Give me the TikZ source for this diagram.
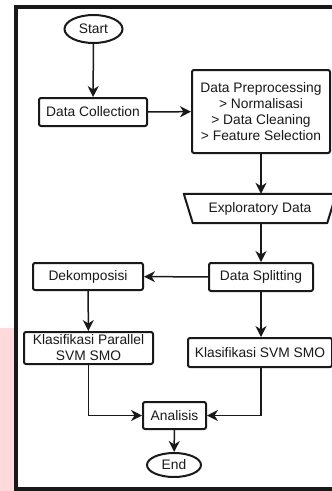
\documentclass[tikz,border=0pt]{standalone}
\usepackage{fontspec}
\setmainfont{Liberation Sans}
\usetikzlibrary{arrows.meta,shapes.geometric}
\definecolor{ink}{RGB}{25,25,25}
\definecolor{pinkbg}{RGB}{255,217,220}
\tikzset{
  box/.style={draw=ink, line width=2pt, rounded corners=2pt, fill=white, text=ink, inner sep=0pt,
    align=center, font=\fontsize{13.8}{16}\selectfont},
  term/.style={ellipse, draw=ink, line width=2pt, fill=white, text=ink, inner sep=0pt,
    font=\fontsize{13.8}{16}\selectfont},
  plain/.style={draw=none, text=ink, inner sep=0pt, align=center, font=\fontsize{13.8}{16}\selectfont},
  flow/.style={draw=ink, line width=1.5pt, -{Stealth[length=11pt,width=11pt,inset=3.5pt]}},
}
\begin{document}
\begin{tikzpicture}[x=1pt,y=-1pt]
\useasboundingbox (0,0) rectangle (332,491);
\clip (0,0) rectangle (332,491);
\fill[pinkbg] (0,328) rectangle (14,491);
\fill[white] (16,7) rectangle (345,489);
\draw[ink, line width=3.6pt] (16,7) rectangle (345,489);

\node[term, minimum width=58pt, minimum height=28pt] (start) at (93.5,29) {Start};
\node[box, minimum width=108pt, minimum height=28pt] (dc) at (93,112) {Data Collection};
\node[box, minimum width=138pt, minimum height=83pt] (dp) at (261,111.5) {Data Preprocessing\\ \textgreater{} Normalisasi\\ \textgreater{} Data Cleaning\\ \textgreater{} Feature Selection};
\node[plain, minimum width=140pt, minimum height=29pt] (ex) at (260,208.5) {Exploratory Data};
\draw[ink, line width=2pt, line join=round, fill=white]
  ([xshift=-6pt]ex.north west) -- ([xshift=6pt]ex.north east) -- ([xshift=-3pt]ex.south east)
  -- ([xshift=3pt]ex.south west) -- cycle;
\node[plain, minimum width=140pt, minimum height=29pt] at (260,208.5) {Exploratory Data};
\node[box, minimum width=104pt, minimum height=28pt] (ds) at (261,277) {Data Splitting};
\node[box, minimum width=110pt, minimum height=27pt] (dk) at (88,276.5) {Dekomposisi};
\node[box, minimum width=129pt, minimum height=32pt] (kp) at (88.5,348) {Klasifikasi Parallel\\SVM SMO};
\node[box, minimum width=144pt, minimum height=29pt] (ks) at (260,352.5) {Klasifikasi SVM SMO};
\node[box, minimum width=63pt, minimum height=27pt] (an) at (174.5,415.5) {Analisis};
\node[term, minimum width=54pt, minimum height=24pt] (end) at (174,465) {End};

\draw[flow] (start) -- (dc);
\draw[flow] (dc) -- (dp);
\draw[flow] (dp.south) -- (dp.south |- ex.north);
\draw[flow] (ex.south -| ds.north) -- (ds.north);
\draw[flow] (ds) -- (dk);
\draw[flow] (dk) -- (kp);
\draw[flow] (ds.south) -- (ds.south |- ks.north);
\draw[flow] (kp.south) |- (an.west);
\draw[flow] (ds.south |- ks.south) |- (an.east);
\draw[flow] (an) -- (end);
\end{tikzpicture}
\end{document}
